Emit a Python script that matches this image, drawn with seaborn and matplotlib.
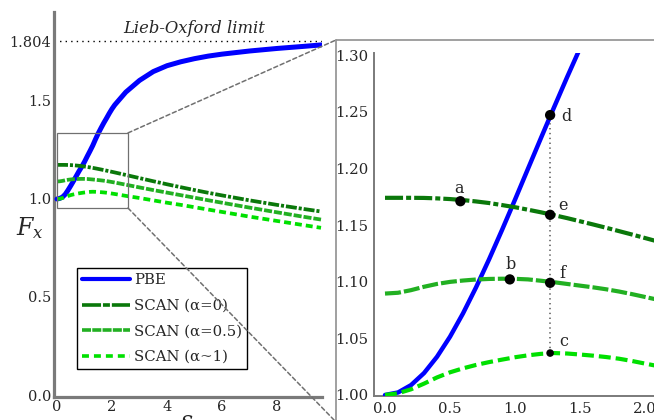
import pandas as pd
import matplotlib
matplotlib.use("Agg")
import matplotlib.pyplot as plt
import seaborn as sns
from matplotlib.lines import Line2D
from matplotlib.patches import Rectangle, ConnectionPatch

# reduced gradient s (fine steps up to 2.1, coarse after)
s_vals = [0.0, 0.1, 0.2, 0.3, 0.4, 0.5, 0.6, 0.7, 0.8, 0.9, 1.0,
          1.1, 1.2, 1.3, 1.4, 1.5, 1.6, 1.7, 1.8, 1.9, 2.0, 2.1,
          2.5, 3.0, 3.5, 4.0, 4.5, 5.0, 5.5, 6.0, 7.0, 8.0, 9.0, 9.6]

# PBE
pbe_left = [1.0, 1.003, 1.010, 1.024, 1.045, 1.068, 1.092, 1.117, 1.142, 1.165, 1.190,
            1.218, 1.245, 1.273, 1.305, 1.335, 1.362, 1.388, 1.412, 1.437, 1.460, 1.480,
            1.545, 1.605, 1.650, 1.680, 1.700, 1.716, 1.729, 1.739, 1.755, 1.768, 1.779, 1.786]

# PBE
pbe_right = [1.0, 1.0022, 1.0087, 1.0193, 1.0337, 1.0514, 1.0720, 1.0949, 1.1196, 1.1456, 1.1724,
             1.1997, 1.2269, 1.2538, 1.2803, 1.3060, 1.3308, 1.3546, 1.3774, 1.3991, 1.4197, 1.4392,
             1.5069, 1.5714, 1.6189, 1.6542, 1.6809, 1.7013, 1.7172, 1.7298, 1.7481, 1.7605, 1.7692, 1.7733]

scan_a0 = [1.174, 1.174, 1.1740, 1.1739, 1.1735, 1.1729, 1.1720, 1.1708, 1.1694, 1.1676, 1.1657,
           1.1635, 1.1612, 1.1587, 1.1561, 1.1533, 1.1505, 1.1476, 1.1446, 1.1416, 1.1385, 1.1354,
           1.1227, 1.1066, 1.0906, 1.0751, 1.0601, 1.0456, 1.0316, 1.0183, 0.9931, 0.9699, 0.9484, 0.9362]

scan_a05 = [1.0895, 1.0902, 1.0925, 1.0955, 1.0980, 1.0998, 1.1010, 1.1019, 1.1024, 1.1026, 1.1025,
            1.1020, 1.1008, 1.0995, 1.0980, 1.0965, 1.0950, 1.0933, 1.0913, 1.0890, 1.0865, 1.0840,
            1.0730, 1.0590, 1.0455, 1.0325, 1.0195, 1.0065, 0.9935, 0.9810, 0.9560, 0.9320, 0.9085, 0.8950]

scan_a1 = [1.000, 1.0015, 1.0050, 1.0100, 1.0155, 1.0200, 1.0235, 1.0265, 1.0290, 1.0312, 1.0333,
           1.0350, 1.0363, 1.0370, 1.0366, 1.0357, 1.0347, 1.0335, 1.0320, 1.0300, 1.0277, 1.0255,
           1.0160, 1.0050, 0.9930, 0.9810, 0.9700, 0.9580, 0.9460, 0.9340, 0.9100, 0.8880, 0.8660, 0.8530]

curve_names = ["PBE", "SCAN (α=0)", "SCAN (α=0.5)", "SCAN (α~1)"]
curve_colors = ["#0000ff", "#0a780a", "#22b022", "#00e000"]

pt_labels = ["a", "b", "c", "d", "e", "f"]
pt_s = [0.58, 0.96, 1.27, 1.27, 1.27, 1.27]
pt_fx = [1.171, 1.102, 1.037, 1.247, 1.159, 1.099]

lo_limit = 1.804
left_yticks = [0.0, 0.5, 1.0, 1.5, 1.804]
left_yticklabels = ["0.0", "0.5", "1.0", "1.5", "1.804"]
left_xticks = [0, 2, 4, 6, 8]
right_yticks = [1.00, 1.05, 1.10, 1.15, 1.20, 1.25, 1.30]
right_yticklabels = ["1.00", "1.05", "1.10", "1.15", "1.20", "1.25", "1.30"]
right_xticks = [0.0, 0.5, 1.0, 1.5, 2.0]
right_xticklabels = ["0.0", "0.5", "1.0", "1.5", "2.0"]


def make_df(pbe):
    return pd.DataFrame({
        "s": s_vals * 4,
        "Fx": pbe + scan_a0 + scan_a05 + scan_a1,
        "curve": sum([[n] * len(s_vals) for n in curve_names], []),
    })


df_left = make_df(pbe_left)
df_right = make_df(pbe_right)

sns.set_style("white")
plt.rcParams["font.family"] = ["DejaVu Serif"]
plt.rcParams["mathtext.fontset"] = "dejavuserif"
plt.rcParams["lines.scale_dashes"] = False

W, H = 654, 420
fig = plt.figure(figsize=(W / 100, H / 100), dpi=100)

def fx(px):
    return px / W

def fy(py):
    return 1 - py / H

ax1 = fig.add_axes([fx(54), fy(397), fx(322) - fx(54), fy(12) - fy(397)])
ax2 = fig.add_axes([fx(374), fy(396), 1 - fx(374), fy(53) - fy(396)])

gray = "#7a7a7a"

# (linewidth, dash pattern in points)
left_styles = [(3.6, None), (2.7, (7.9, 1.4, 2.2, 1.4)), (2.7, (5.8, 1.4)), (2.7, (5.0, 2.9))]
right_styles = [(3.2, None), (3.0, (13, 2.2, 3.6, 2.2)), (3.0, (11.5, 2.2)), (3.0, (8.6, 3.6))]

for ax, data, styles in [(ax1, df_left, left_styles), (ax2, df_right, right_styles)]:
    for name, color, (lw, dash) in zip(curve_names, curve_colors, styles):
        sub = data[data["curve"] == name]
        ls = "-" if dash is None else (0, dash)
        sns.lineplot(data=sub, x="s", y="Fx", color=color, lw=lw, linestyle=ls,
                     ax=ax, legend=False, zorder=3)

# left panel
ax1.set_xlim(-0.11, 9.636)
ax1.set_ylim(-0.0102, 1.954)
ax1.axhline(lo_limit, color="black", lw=1, linestyle=(0, (1, 3)), zorder=2)
ax1.text(5.0, lo_limit + 0.02, "Lieb-Oxford limit", style="italic", fontsize=11.8,
         ha="center", va="bottom")
ax1.add_patch(Rectangle((0, 0.954), 2.58, 0.383, fill=False, edgecolor="#707070", lw=0.9, zorder=4))
ax1.set_xticks(left_xticks)
ax1.set_yticks(left_yticks)
ax1.set_yticklabels(left_yticklabels)
ax1.set_xlabel("")
ax1.set_ylabel("")
for side in ["top", "right"]:
    ax1.spines[side].set_visible(False)
for side in ["left", "bottom"]:
    ax1.spines[side].set_color(gray)
    ax1.spines[side].set_linewidth(2.3)
ax1.tick_params(direction="in", length=3, width=1.2, color=gray, labelsize=10.5, pad=2)

handles = []
leg_styles = [(3.0, None), (2.6, (13.7, 1.4, 5.0, 1.4)), (2.6, (6.5, 0.9)), (2.6, (5.0, 3.6))]
for name, color, (lw, dash) in zip(curve_names, curve_colors, leg_styles):
    ls = "-" if dash is None else (0, dash)
    handles.append(Line2D([], [], color=color, lw=lw, linestyle=ls))
leg = ax1.legend(handles, curve_names, loc="upper left", bbox_to_anchor=(fx(77), fy(268)),
                 bbox_transform=fig.transFigure, fontsize=10.7, frameon=True, fancybox=False,
                 edgecolor="black", framealpha=1, handlelength=3.2, handletextpad=0.3,
                 borderpad=0.35, labelspacing=0.78, borderaxespad=0)
leg.get_frame().set_linewidth(1.0)

fig.text(fx(30), fy(228), "$F_x$", fontsize=17, ha="center", va="center")
fig.text(fx(187), fy(421), "$s$", fontsize=17, ha="center", va="center")

# right panel
ax2.set_xlim(-0.0846, 2.069)
ax2.set_ylim(0.9991, 1.3018)
ax2.vlines(pt_s[3], pt_fx[2], pt_fx[3], color="#707070", lw=1.3, linestyles=[(0, (1, 2.5))], zorder=2)
sizes = [55, 55, 30, 55, 55, 55]
sns.scatterplot(x=pt_s, y=pt_fx, color="black", s=sizes, linewidth=0, ax=ax2, zorder=5, legend=False)
offsets = [(-0.7, 9.4), (0.7, 10.6), (10, 8), (12, -1), (9.4, 7), (8.6, 7)]
for lab, x, y, off in zip(pt_labels, pt_s, pt_fx, offsets):
    ax2.annotate(lab, (x, y), xytext=off, textcoords="offset points",
                 ha="center", va="center", fontsize=11.5)
ax2.set_xticks(right_xticks)
ax2.set_xticklabels(right_xticklabels)
ax2.set_yticks(right_yticks)
ax2.set_yticklabels(right_yticklabels)
ax2.set_xlabel("")
ax2.set_ylabel("")
for side in ["top", "right"]:
    ax2.spines[side].set_visible(False)
for side in ["left", "bottom"]:
    ax2.spines[side].set_color(gray)
    ax2.spines[side].set_linewidth(1.4)
ax2.tick_params(direction="in", length=3.5, width=1.0, color=gray, labelsize=10.7, pad=4)

# zoom frame and connectors
frame_col = "#909090"
fig.add_artist(Line2D([fx(336), fx(336)], [fy(425), fy(40)], transform=fig.transFigure,
                      color=frame_col, lw=1.2))
fig.add_artist(Line2D([fx(336), 1.0], [fy(40), fy(40)], transform=fig.transFigure,
                      color=frame_col, lw=1.2))
for ya, yb in [(1.337, 40), (0.954, 422)]:
    con = ConnectionPatch(xyA=(2.58, ya), coordsA=ax1.transData,
                          xyB=(fx(336), fy(yb)), coordsB=fig.transFigure,
                          color="#707070", lw=1.1, linestyle=(0, (3, 2)))
    fig.add_artist(con)

fig.savefig("out.png", dpi=100)
